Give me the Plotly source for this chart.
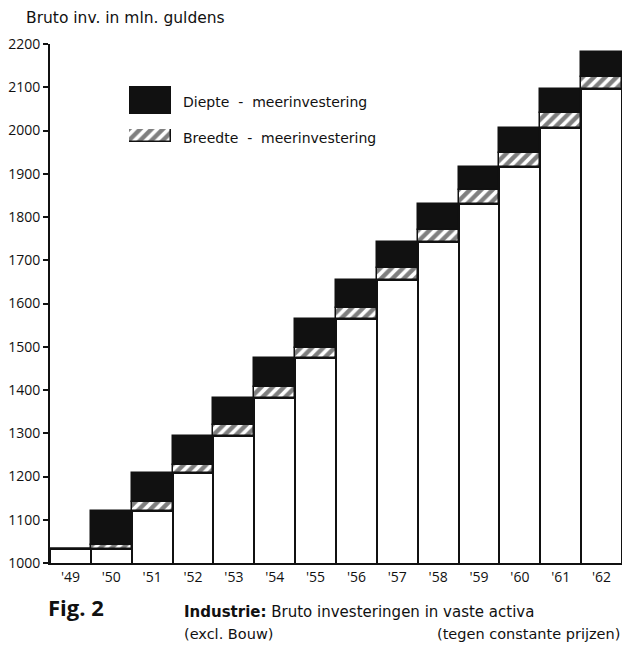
import plotly.graph_objects as go

# ---- data ----
years = ["'49", "'50", "'51", "'52", "'53", "'54", "'55", "'56", "'57", "'58", "'59", "'60", "'61", "'62"]
basis = [1032, 1032, 1120, 1208, 1293, 1381, 1474, 1564, 1654, 1742, 1830, 1916, 2006, 2096]
breedte = [0, 10, 20, 18, 25, 25, 22, 25, 28, 27, 33, 33, 35, 28]
diepte = [0, 78, 68, 67, 63, 68, 68, 65, 60, 61, 53, 57, 55, 57]
y_ticks = list(range(1000, 2201, 100))

TICKFONT = "Open Sans"
TEXTFONT = "DejaVu Sans"
INK = "#111111"

W, H = 624, 646
L, R, T, B = 50, 2, 44, 83
pw, ph = W - L - R, H - T - B

def px(x):
    return (x - L) / pw

def py(y):
    return (H - B - y) / ph

hatch_base = [b for b in basis]
black_base = [b + h for b, h in zip(basis, breedte)]

PATTERN = dict(shape="/", fgcolor="#000000", bgcolor="white", size=8, solidity=0.55)

fig = go.Figure()
fig.add_trace(go.Bar(
    x=years, y=basis, base=0,
    marker=dict(color="white", line=dict(color=INK, width=2)),
    showlegend=False, hoverinfo="skip"))
fig.add_trace(go.Bar(
    x=years, y=breedte, base=hatch_base,
    marker=dict(color="white", line=dict(color=INK, width=1.5), pattern=PATTERN),
    showlegend=False, hoverinfo="skip"))
fig.add_trace(go.Bar(
    x=years, y=diepte, base=black_base,
    marker=dict(color=INK, line=dict(color=INK, width=1.5)),
    showlegend=False, hoverinfo="skip"))

# legend swatches drawn as tiny bars in their own mini axes
fig.add_trace(go.Bar(x=[0.5], y=[1], width=[1], xaxis="x2", yaxis="y2",
                     marker=dict(color=INK, line=dict(width=0)), showlegend=False, hoverinfo="skip"))
fig.add_trace(go.Bar(x=[0.5], y=[1], width=[1], xaxis="x3", yaxis="y3",
                     marker=dict(color="white", line=dict(color=INK, width=1.5), pattern=PATTERN),
                     showlegend=False, hoverinfo="skip"))

mini = dict(range=[0, 1], visible=False, fixedrange=True)

fig.update_layout(
    width=W, height=H,
    margin=dict(l=L, r=R, t=T, b=B),
    paper_bgcolor="white", plot_bgcolor="white",
    barmode="overlay", bargap=0,
    font=dict(family=TICKFONT, color=INK, size=14),
    xaxis=dict(type="category", showgrid=False, zeroline=False,
               showline=True, linecolor=INK, linewidth=2, ticks="",
               tickfont=dict(size=14, family=TICKFONT, color=INK)),
    yaxis=dict(range=[1000, 2200], tickvals=y_ticks, showgrid=False, zeroline=False,
               showline=True, linecolor=INK, linewidth=2, ticks="outside", ticklen=5,
               tickcolor=INK, tickwidth=1.5,
               tickfont=dict(size=14, family=TICKFONT, color=INK)),
    xaxis2=dict(domain=[px(129), px(171)], anchor="y2", **mini),
    yaxis2=dict(domain=[py(114), py(86)], anchor="x2", **mini),
    xaxis3=dict(domain=[px(129), px(171)], anchor="y3", **mini),
    yaxis3=dict(domain=[py(142), py(129)], anchor="x3", **mini),
    showlegend=False,
)

ann = [
    dict(text="Bruto inv. in mln. guldens", x=24, y=18, xanchor="left", size=15.5, fam=TEXTFONT),
    dict(text="Diepte  -  meerinvestering", x=181, y=102, xanchor="left", size=14, fam=TEXTFONT),
    dict(text="Breedte  -  meerinvestering", x=181, y=138, xanchor="left", size=14, fam=TEXTFONT),
    dict(text="<b>Fig. 2</b>", x=46, y=607, xanchor="left", size=22, fam=TICKFONT),
    dict(text="<b>Industrie:</b> Bruto investeringen in vaste activa", x=182, y=612, xanchor="left", size=15, fam=TEXTFONT),
    dict(text="(excl. Bouw)", x=182, y=634, xanchor="left", size=14.5, fam=TEXTFONT),
    dict(text="(tegen constante prijzen)", x=622, y=634, xanchor="right", size=14.5, fam=TEXTFONT),
]
for a in ann:
    fig.add_annotation(text=a["text"], xref="paper", yref="paper",
                       x=px(a["x"]), y=py(a["y"]), xanchor=a["xanchor"], yanchor="middle",
                       showarrow=False, font=dict(family=a["fam"], size=a["size"], color=INK))

fig.write_html("out.html", config={"displayModeBar": False},
               post_script="document.body.style.margin='0';")
